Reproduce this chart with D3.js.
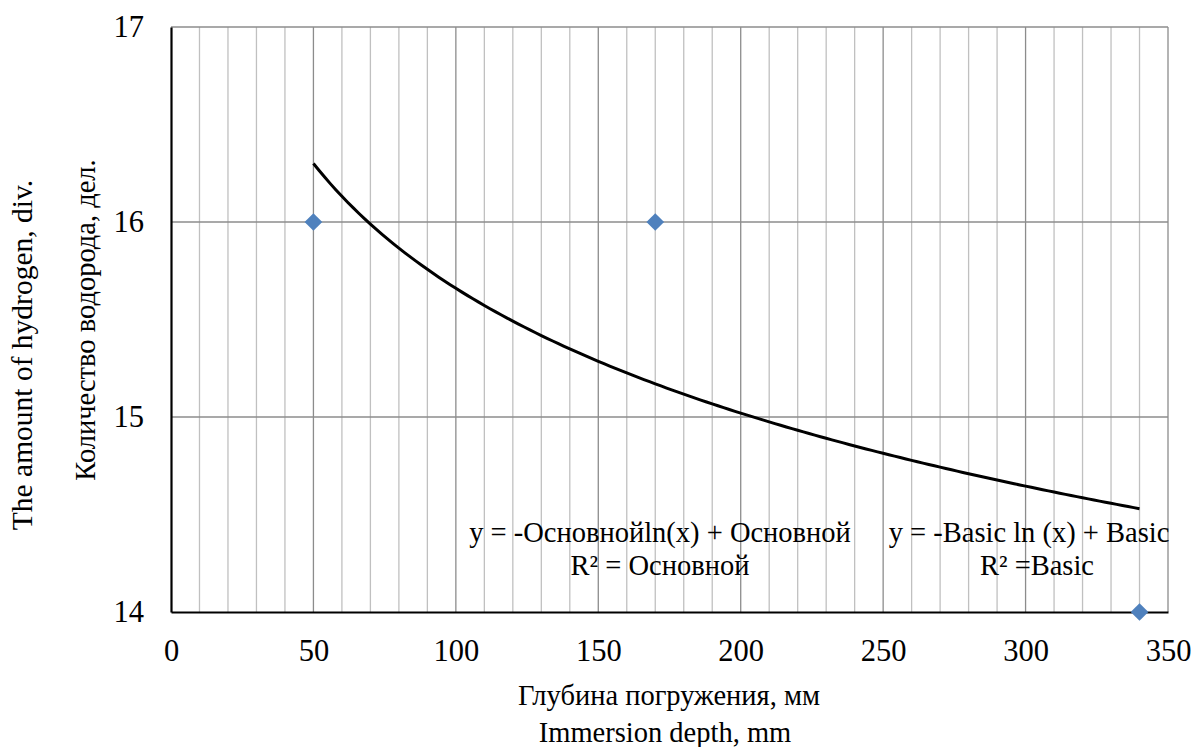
<!DOCTYPE html>
<html>
<head>
<meta charset="utf-8">
<script src="https://cdn.jsdelivr.net/npm/d3@7"></script>
<style>
  html, body { margin: 0; padding: 0; background: #fff; }
</style>
</head>
<body>
<div id="chart"></div>
<script>
// точки измерений
const depth = [50, 170, 340]
const hydrogen = [16, 16, 14]
// подписи осей
const xTicks = [0, 50, 100, 150, 200, 250, 300, 350]
const yTicks = [14, 15, 16, 17]
const xTitle = ["Глубина погружения, мм", "Immersion depth, mm"]
const yTitle = ["The amount of hydrogen, div.", "Количество водорода, дел."]
const eqRu = ["y = -Основнойln(x) + Основной", "R² = Основной"]
const eqEn = ["y = -Basic ln (x) + Basic", "R² =Basic"]

const FONT = "'Liberation Serif', 'Times New Roman', serif"
const W = 1196, H = 747
const m = { left: 171, right: 28, top: 27, bottom: 135 }

const svg = d3.select("#chart").append("svg").attr("width", W).attr("height", H)

const x = d3.scaleLinear().domain([0, 350]).range([m.left, W - m.right])
const y = d3.scaleLinear().domain([14, 17]).range([H - m.bottom, m.top])

// сетка: второстепенные вертикальные линии через 10
const minor = d3.range(10, 350, 10).filter(v => v % 50 != 0)
svg.append("g").selectAll("line").data(minor).enter().append("line")
  .attr("x1", d => x(d)).attr("x2", d => x(d))
  .attr("y1", y(17)).attr("y2", y(14))
  .attr("stroke", "#c0c0c0").attr("stroke-width", 1.3)

// основные линии
svg.append("g").selectAll("line").data(xTicks.slice(1)).enter().append("line")
  .attr("x1", d => x(d)).attr("x2", d => x(d))
  .attr("y1", y(17)).attr("y2", y(14))
  .attr("stroke", "#8c8c8c").attr("stroke-width", 1.3)
svg.append("g").selectAll("line").data(yTicks.slice(1)).enter().append("line")
  .attr("x1", x(0)).attr("x2", x(350))
  .attr("y1", d => y(d)).attr("y2", d => y(d))
  .attr("stroke", "#8c8c8c").attr("stroke-width", 1.3)

// оси
const xAxis = svg.append("g").attr("transform", `translate(0,${y(14)})`)
  .call(d3.axisBottom(x).tickValues(xTicks).tickFormat(d3.format("d")).tickSize(0).tickPadding(27))
const yAxis = svg.append("g").attr("transform", `translate(${x(0)},0)`)
  .call(d3.axisLeft(y).tickValues(yTicks).tickFormat(d3.format("d")).tickSize(0).tickPadding(27))
xAxis.select(".domain").attr("stroke", "#000").attr("stroke-width", 2.2)
yAxis.select(".domain").attr("stroke", "#000").attr("stroke-width", 2.2)
xAxis.attr("font-family", FONT).attr("font-size", 30.5)
yAxis.attr("font-family", FONT).attr("font-size", 30.5)
xAxis.selectAll("text").attr("fill", "#000")
yAxis.selectAll("text").attr("fill", "#000")

// логарифмическая линия тренда по методу наименьших квадратов
const lx = depth.map(Math.log)
const mx = d3.mean(lx), my = d3.mean(hydrogen)
const slope = d3.sum(lx, (v, i) => (v - mx) * (hydrogen[i] - my)) / d3.sum(lx, v => (v - mx) * (v - mx))
const icpt = my - slope * mx
const trendX = d3.range(depth[0], depth[depth.length - 1] + 1, 2)
const line = d3.line().x(d => x(d)).y(d => y(slope * Math.log(d) + icpt))
svg.append("path").datum(trendX)
  .attr("d", line).attr("fill", "none")
  .attr("stroke", "#000").attr("stroke-width", 3)

// точки
svg.append("g").selectAll("path").data(depth).enter().append("path")
  .attr("transform", (d, i) => `translate(${x(d)},${y(hydrogen[i])})`)
  .attr("d", d3.symbol().type(d3.symbolDiamond2).size(200))
  .attr("fill", "#4f81bd")

// подписи уравнений
function eq(lines, cx, cy) {
  svg.append("g").selectAll("text").data(lines).enter().append("text")
    .attr("x", (d, i) => cx[i]).attr("y", (d, i) => cy + i * 33)
    .attr("text-anchor", "middle")
    .attr("font-family", FONT).attr("font-size", 28.5)
    .text(d => d)
}
eq(eqRu, [660, 660], 542)
eq(eqEn, [1029, 1037], 542)

// названия осей
svg.append("g").selectAll("text").data(xTitle).enter().append("text")
  .attr("x", (d, i) => [669, 665][i]).attr("y", (d, i) => 705 + i * 37)
  .attr("text-anchor", "middle")
  .attr("font-family", FONT).attr("font-size", 28.5).text(d => d)
svg.append("g").selectAll("text").data(yTitle).enter().append("text")
  .attr("transform", (d, i) => `translate(${[32, 95][i]},${[355, 320][i]}) rotate(-90)`)
  .attr("text-anchor", "middle")
  .attr("font-family", FONT).attr("font-size", (d, i) => [29.5, 28.5][i]).text(d => d)
</script>
</body>
</html>
